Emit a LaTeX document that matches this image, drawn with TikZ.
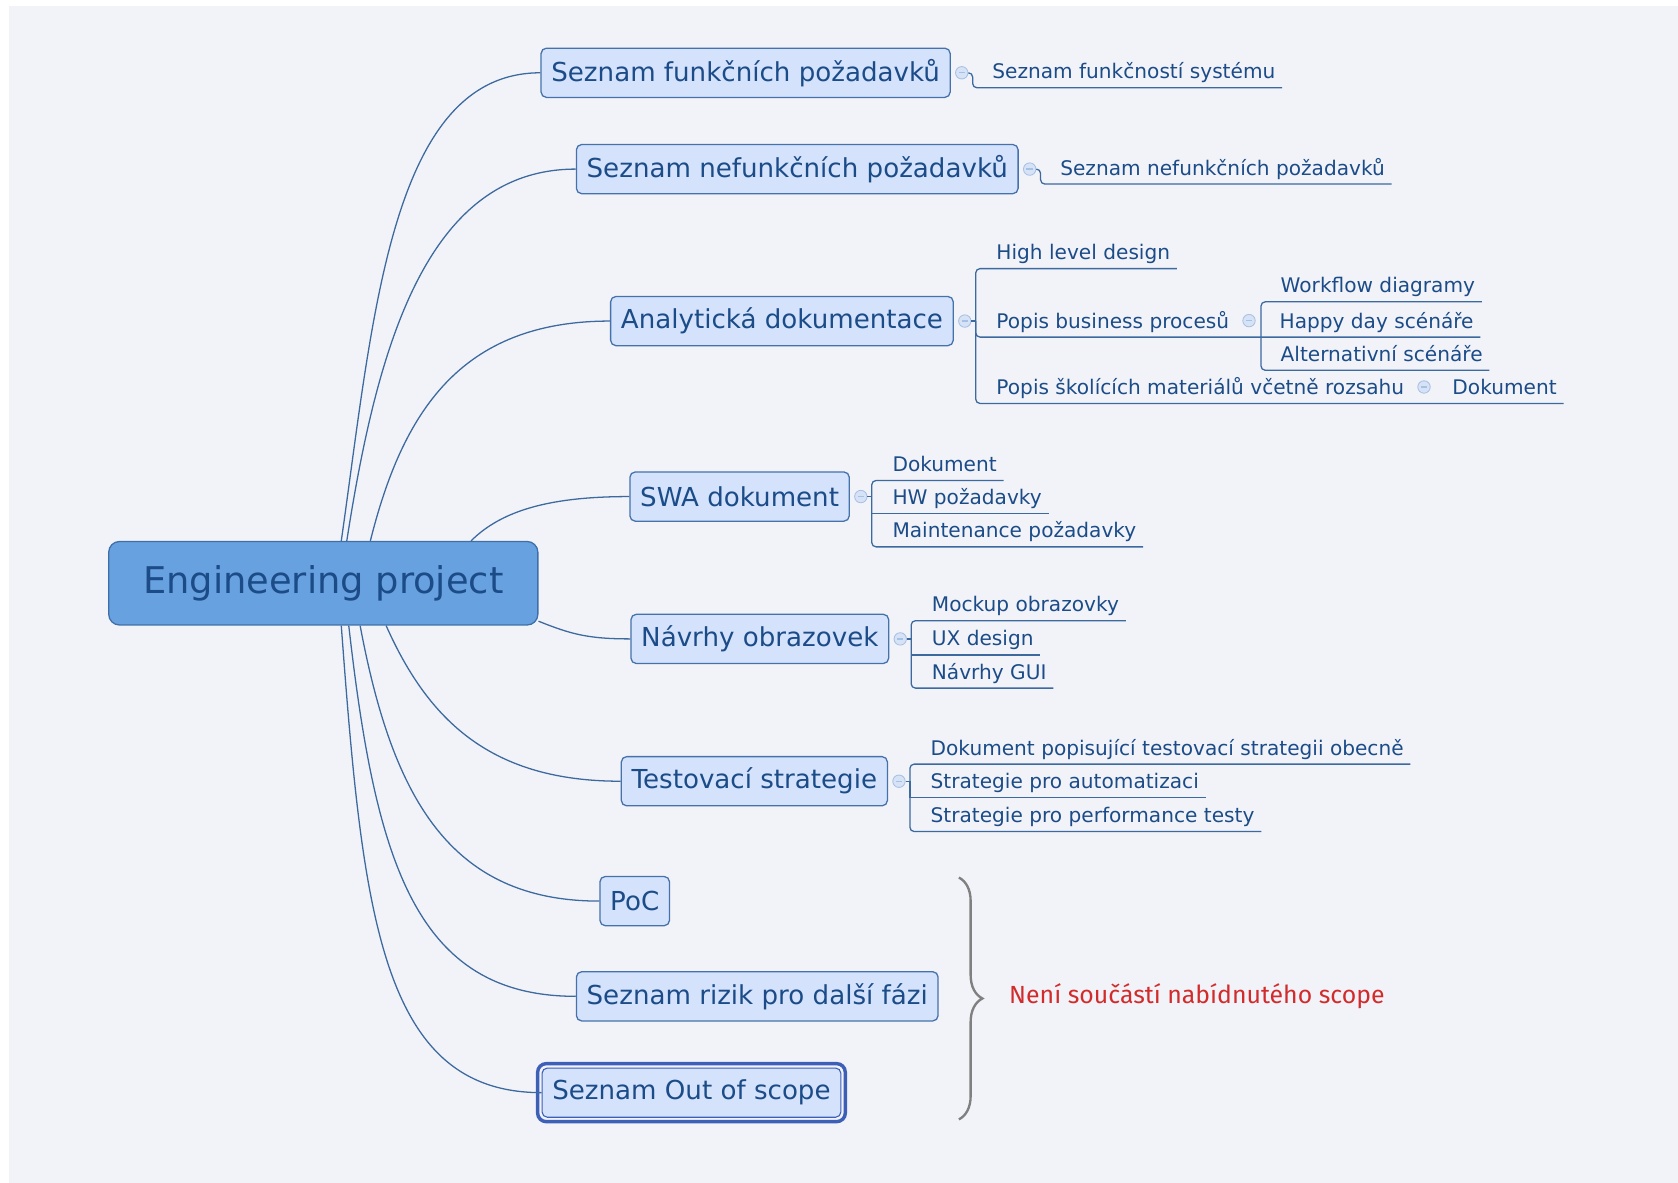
\documentclass[tikz,border=0pt]{standalone}
\usepackage{fontspec}
\setmainfont{DejaVu Sans}
\newfontfamily\notefont{Fira Sans}
\usetikzlibrary{positioning,calc,decorations.pathreplacing}

\definecolor{bgc}{HTML}{F2F3F8}
\definecolor{topicfill}{HTML}{D4E2FC}
\definecolor{topicline}{HTML}{4572AA}
\definecolor{topictext}{HTML}{1B4C88}
\definecolor{rootfill}{HTML}{68A1DF}
\definecolor{rootline}{HTML}{3D6FA9}
\definecolor{outline}{HTML}{3C5FB8}
\definecolor{linkc}{HTML}{3C6A9F}
\definecolor{markfill}{HTML}{D6E3F7}
\definecolor{markline}{HTML}{A8C0E4}
\definecolor{notec}{HTML}{D22B2B}

\tikzset{
  topic/.style={draw=topicline, fill=topicfill, text=topictext, line width=0.6pt, rounded corners=2.5pt, anchor=west, minimum height=23pt, inner xsep=4.8pt, font=\fontsize{12.2}{14}\selectfont},
  sub/.style={text=topictext, anchor=south west, inner xsep=3pt, inner ysep=4pt, text height=7pt, text depth=0pt, font=\fontsize{9.4}{11}\selectfont},
  knob/.style={circle, draw=markline, fill=markfill, line width=0.4pt, minimum size=5.8pt, inner sep=0pt, path picture={\draw[markline, line width=0.6pt] ([xshift=-1.5pt]path picture bounding box.center) -- ([xshift=1.5pt]path picture bounding box.center);}},
  branch/.style={draw=linkc, line width=0.6pt},
}

\begin{document}
\begin{tikzpicture}[x=0.5pt, y=-0.5pt]
    \useasboundingbox (0,0) rectangle (1568,1105);
    \fill[bgc] (8.4,5.6) rectangle (1568,1105);
    % central topic
    \node[draw=rootline, fill=rootfill, text=topictext, line width=0.6pt, rounded corners=5pt, anchor=west, minimum width=200.5pt, minimum height=39pt, font=\fontsize{17.2}{20}\selectfont] (root) at (101,545) {Engineering project};
    % main topics
    \node[topic] (f) at (505,68) {Seznam funkčních požadavků};
    \node[topic] (n) at (538,158) {Seznam nefunkčních požadavků};
    \node[topic] (a) at (570,300) {Analytická dokumentace};
    \node[topic] (s) at (588,464) {SWA dokument};
    \node[topic] (v) at (589,597) {Návrhy obrazovek};
    \node[topic] (t) at (580,730) {Testovací strategie};
    \node[topic] (p) at (560,842) {PoC};
    \node[topic] (r) at (538,931) {Seznam rizik pro další fázi};
    \node[topic, line width=0.5pt, draw=outline] (o) at (506,1021) {Seznam Out of scope};
    \draw[outline, line width=1.6pt, rounded corners=4pt] ([shift={(-1.8pt,1.8pt)}]o.north west) rectangle ([shift={(1.8pt,-1.8pt)}]o.south east);
    % branches from the root
    \draw[branch] (root.67) .. controls +(30,-210) and +(-140,0) .. (f.west);
    \draw[branch] (root.61) .. controls +(28,-180) and +(-140,0) .. (n.west);
    \draw[branch] (root.42) .. controls +(30,-120) and +(-140,0) .. (a.west);
    \draw[branch] (root.16) .. controls +(30,-30) and +(-70,0) .. (s.west);
    \draw[branch] (root.-10.5) .. controls +(30,12) and +(-40,0) .. (v.west);
    \draw[branch] (root.-34) .. controls +(40,90) and +(-120,0) .. (t.west);
    \draw[branch] (root.-49) .. controls +(30,160) and +(-140,0) .. (p.west);
    \draw[branch] (root.-59) .. controls +(25,220) and +(-150,0) .. (r.west);
    \draw[branch] (root.-67) .. controls +(20,270) and +(-150,0) .. (o.west);
    % Seznam funkcnich pozadavku
    \node[knob] (kf) [right=2pt of f] {};
    \coordinate (bf) at ([xshift=2pt]kf.east);
    \node[sub] (f1) at ([xshift=6pt]bf |- 0,82) {Seznam funkčností systému};
    \draw[branch, rounded corners=2pt] (kf.east) -- (bf) |- (f1.south west) -- (f1.south east);
    % Seznam nefunkcnich pozadavku
    \node[knob] (kn) [right=2pt of n] {};
    \coordinate (bn) at ([xshift=2pt]kn.east);
    \node[sub] (n1) at ([xshift=6pt]bn |- 0,172) {Seznam nefunkčních požadavků};
    \draw[branch, rounded corners=2pt] (kn.east) -- (bn) |- (n1.south west) -- (n1.south east);
    % Analyticka dokumentace
    \node[knob] (ka) [right=2pt of a] {};
    \coordinate (ba) at ([xshift=2pt]ka.east);
    \node[sub] (a1) at ([xshift=6.5pt]ba |- 0,251) {High level design};
    \node[sub] (a2) at ([xshift=6.5pt]ba |- 0,315) {Popis business procesů};
    \node[sub] (a3) at ([xshift=6.5pt]ba |- 0,377) {Popis školících materiálů včetně rozsahu};
    \node[knob] (ka2) [right=3pt of a2] {};
    \coordinate (ba2) at ([xshift=2.5pt]ka2.east |- a2.south);
    \node[sub] (a21) at ([xshift=6pt]ba2 |- 0,282) {Workflow diagramy};
    \node[sub] (a22) at ([xshift=5.5pt]ba2 |- 0,315) {Happy day scénáře};
    \node[sub] (a23) at ([xshift=6pt]ba2 |- 0,346) {Alternativní scénáře};
    \node[knob] (ka3) [right=3pt of a3] {};
    \node[sub] (a31) at ([xshift=7pt]ka3.east |- a3.south) {Dokument};
    \draw[branch] (ka.east) -- (ba);
    \draw[branch, rounded corners=2pt] (ba) |- (a1.south west) -- (a1.south east);
    \draw[branch, rounded corners=2pt] (ba) |- (a2.south west) -- (ba2) -- (a22.south east);
    \draw[branch, rounded corners=2pt] (ba) |- (a3.south west) -- (a31.south east);
    \draw[branch, rounded corners=2pt] (a21.south east) -| (ba2) |- (a23.south east);
    % SWA dokument
    \node[knob] (ks) [right=2pt of s] {};
    \coordinate (bs) at ([xshift=2pt]ks.east);
    \node[sub] (s1) at ([xshift=6.5pt]bs |- 0,449) {Dokument};
    \node[sub] (s2) at ([xshift=6.5pt]bs |- 0,480) {HW požadavky};
    \node[sub] (s3) at ([xshift=6.5pt]bs |- 0,511) {Maintenance požadavky};
    \draw[branch] (ks.east) -- (bs);
    \draw[branch, rounded corners=2pt] (s1.south east) -- (s1.south west) -| (bs) |- (s3.south west) -- (s3.south east);
    \draw[branch] (bs) |- (s2.south west) -- (s2.south east);
    % Navrhy obrazovek
    \node[knob] (kv) [right=2pt of v] {};
    \coordinate (bv) at ([xshift=2pt]kv.east);
    \node[sub] (v1) at ([xshift=6.5pt]bv |- 0,580) {Mockup obrazovky};
    \node[sub] (v2) at ([xshift=6.5pt]bv |- 0,612) {UX design};
    \node[sub] (v3) at ([xshift=6.5pt]bv |- 0,643) {Návrhy GUI};
    \draw[branch] (kv.east) -- (bv);
    \draw[branch, rounded corners=2pt] (v1.south east) -- (v1.south west) -| (bv) |- (v3.south west) -- (v3.south east);
    \draw[branch] (bv) |- (v2.south west) -- (v2.south east);
    % Testovaci strategie
    \node[knob] (kt) [right=2pt of t] {};
    \coordinate (bt) at ([xshift=2pt]kt.east);
    \node[sub] (t1) at ([xshift=6.5pt]bt |- 0,714) {Dokument popisující testovací strategii obecně};
    \node[sub] (t2) at ([xshift=6.5pt]bt |- 0,745) {Strategie pro automatizaci};
    \node[sub] (t3) at ([xshift=6.5pt]bt |- 0,777) {Strategie pro performance testy};
    \draw[branch] (kt.east) -- (bt);
    \draw[branch, rounded corners=2pt] (t1.south east) -- (t1.south west) -| (bt) |- (t3.south west) -- (t3.south east);
    \draw[branch] (bt) |- (t2.south west) -- (t2.south east);
    % not in scope
    \coordinate (c1) at (896,820);
    \coordinate (c2) at (896,1046);
    \draw[gray, line width=1.1pt, decorate, decoration={brace, amplitude=11pt}] (c1) -- (c2);
    \node[anchor=west, text=notec, font=\notefont\fontsize{11.6}{14}\selectfont] (note) at (936,931) {Není součástí nabídnutého scope};
\end{tikzpicture}
\end{document}
